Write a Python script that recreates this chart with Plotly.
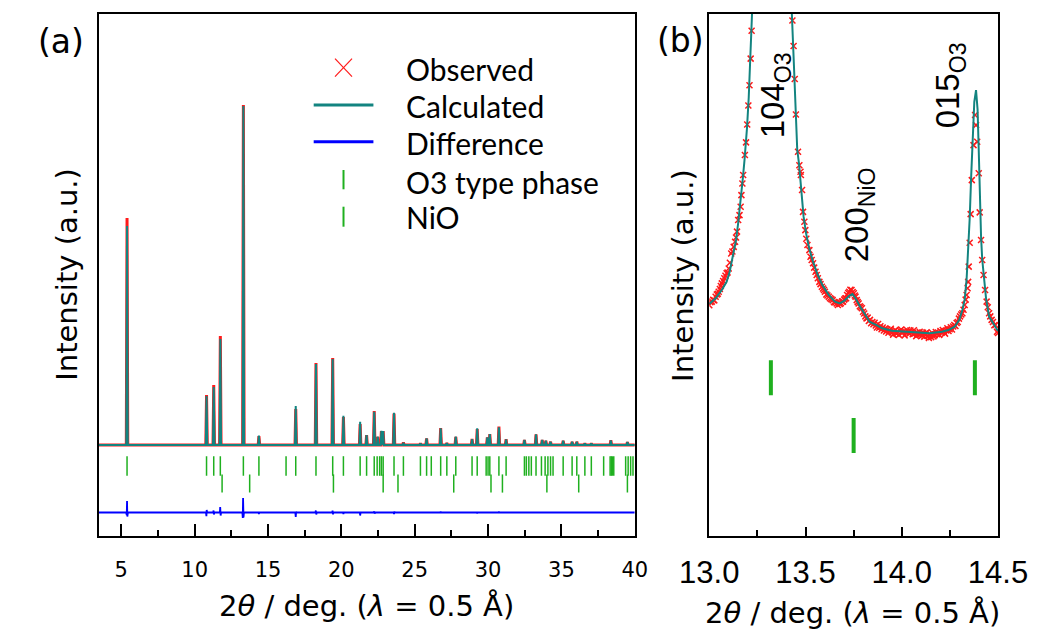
import plotly.graph_objects as go

# ---------------- data: panel (a), full Rietveld pattern ----------------
a_peak_pos = [5.39, 10.81, 11.30, 11.75, 13.32, 14.38, 16.89, 18.27, 19.41, 20.14,
              21.28, 21.72, 22.24, 22.48, 22.73, 22.85, 23.59, 24.23, 25.39, 25.81,
              26.77, 27.19, 27.80, 28.91, 29.26, 29.95, 30.12, 30.74, 31.23, 32.48,
              33.27, 33.69, 33.94, 34.26, 35.12, 35.73, 36.05, 36.60, 37.04, 38.37, 39.50]
a_peak_calc = [3190, 1490, 1580, 2060, 4390, 1093, 1390, 1810, 1860, 1293,
               1233, 1100, 1333, 1083, 1143, 1140, 1323, 1023, 1017, 1067,
               1167, 1020, 1083, 1060, 1167, 1077, 1110, 1177, 1057, 1050,
               1107, 1050, 1043, 1033, 1043, 1033, 1033, 1017, 1017, 1047, 1030]
a_peak_obs = [3270, 1500, 1600, 2090, 4400, 1090, 1360, 1820, 1870, 1280,
              1210, 1100, 1340, 1080, 1140, 1140, 1315, 1025, 1017, 1065,
              1170, 1020, 1080, 1060, 1160, 1077, 1110, 1185, 1057, 1050,
              1107, 1050, 1043, 1033, 1043, 1033, 1033, 1017, 1017, 1047, 1030]
a_background = 1000

diff_x = [3.47, 5.33, 5.37, 5.39, 5.41, 5.45, 10.77, 10.80, 10.82, 10.85,
          11.27, 11.29, 11.31, 11.34, 11.72, 11.74, 11.77, 11.80, 13.25, 13.28,
          13.30, 13.33, 13.36, 14.36, 14.38, 14.40, 16.86, 16.89, 16.92, 16.95,
          18.24, 18.26, 18.29, 18.32, 19.38, 19.40, 19.43, 19.46, 20.12, 20.14,
          20.17, 21.26, 21.28, 21.31, 22.22, 22.24, 22.27, 22.30, 23.57, 23.59,
          23.62, 23.65, 26.75, 26.77, 26.80, 29.24, 29.26, 29.29, 30.72, 30.74,
          30.77, 40.0]
diff_y = [0, 0, -25, 115, -40, 0, 0, -37, 25, 0,
          0, 20, -20, 0, 0, 55, -30, 0, 0, -55,
          145, -50, 0, 0, -15, 0, 0, -45, 10, 0,
          0, 20, -20, 0, 0, 18, -18, 0, 0, -15,
          0, 0, -30, 0, 0, 12, -12, 0, 0, -15,
          10, 0, 0, 10, 0, 0, -10, 0, 0, 10,
          0, 0]

o3_pos = [5.39, 10.81, 11.30, 11.75, 13.32, 14.38, 16.23, 16.89, 18.27, 19.41,
          20.14, 21.28, 21.72, 22.24, 22.44, 22.61, 22.73, 22.85, 23.59, 24.23,
          25.39, 25.81, 26.13, 26.77, 27.19, 27.80, 28.91, 29.26, 29.87, 30.00,
          30.12, 30.74, 31.23, 32.48, 32.61, 32.78, 32.95, 33.27, 33.64, 33.89,
          34.08, 34.26, 34.43, 35.12, 35.73, 36.05, 36.60, 37.04, 37.88, 38.32,
          38.40, 38.47, 38.57, 39.38, 39.55, 39.72, 39.88]
nio_pos = [11.87, 13.75, 19.46, 22.85, 23.86, 27.66, 30.20, 30.98, 34.01, 36.18, 39.50]

# ---------------- data: panel (b), zoom 13.0 - 14.5 deg ----------------
b_calc_x = [13.000, 13.033, 13.065, 13.090, 13.106, 13.123, 13.139, 13.150, 13.158, 13.167,
            13.175, 13.183, 13.188, 13.196, 13.205, 13.212, 13.219, 13.222, 13.250, 13.320,
            13.400, 13.429, 13.440, 13.449, 13.457, 13.466, 13.474, 13.482, 13.490, 13.503,
            13.519, 13.539, 13.564, 13.588, 13.621, 13.653, 13.678, 13.702, 13.727, 13.744,
            13.760, 13.784, 13.809, 13.833, 13.866, 13.899, 13.948, 14.013, 14.078, 14.144,
            14.209, 14.242, 14.275, 14.299, 14.315, 14.327, 14.337, 14.345, 14.353, 14.361,
            14.369, 14.377, 14.386, 14.394, 14.400, 14.405, 14.412, 14.418, 14.426, 14.438,
            14.454, 14.479, 14.495, 14.500]
b_calc_y = [991.3, 993.5, 996.8, 1000.0, 1004.0, 1009.9, 1016.5, 1023.1, 1028.3, 1034.9,
            1041.4, 1048.0, 1052.0, 1060.7, 1072.8, 1085.6, 1098.4, 1105.6, 1300.0, 2500.0,
            1300.0, 1105.6, 1085.0, 1068.0, 1052.0, 1046.7, 1040.1, 1032.3, 1025.7, 1019.1,
            1013.2, 1007.9, 1002.7, 998.7, 994.8, 992.2, 991.5, 992.6, 994.5, 995.2,
            993.5, 990.2, 986.9, 984.3, 983.0, 981.7, 980.7, 980.3, 979.9, 979.7,
            980.3, 981.0, 982.3, 985.0, 988.9, 993.0, 1001.0, 1012.0, 1025.0, 1042.0,
            1058.0, 1071.0, 1075.6, 1068.0, 1052.0, 1033.0, 1018.0, 1009.0, 1002.0, 993.5,
            986.3, 983.0, 981.0, 980.6]

b_obs_x = [13.000, 13.006, 13.013, 13.020, 13.026, 13.033, 13.039, 13.044, 13.049, 13.055,
           13.060, 13.065, 13.072, 13.078, 13.084, 13.090, 13.095, 13.101, 13.107, 13.114,
           13.120, 13.127, 13.134, 13.139, 13.144, 13.150, 13.157, 13.163, 13.167, 13.172,
           13.176, 13.185, 13.191, 13.197, 13.203, 13.209, 13.215, 13.220,
           13.432, 13.438, 13.444, 13.450, 13.461, 13.468, 13.474, 13.476, 13.482, 13.487,
           13.494, 13.499, 13.504, 13.510, 13.520, 13.526, 13.532, 13.539, 13.545, 13.552,
           13.558, 13.564, 13.572, 13.578, 13.585, 13.591, 13.596, 13.601, 13.608, 13.614,
           13.621, 13.627, 13.634, 13.641, 13.648, 13.655, 13.662, 13.668, 13.673, 13.678,
           13.684, 13.690, 13.695, 13.701, 13.706, 13.711, 13.716, 13.722, 13.727, 13.733,
           13.739, 13.745, 13.751, 13.756, 13.760, 13.766, 13.771, 13.776, 13.782, 13.787,
           13.793, 13.799, 13.805, 13.811, 13.817, 13.823, 13.829, 13.835, 13.841, 13.847,
           13.853, 13.859, 13.865, 13.871, 13.877, 13.883, 13.889, 13.895, 13.901, 13.907,
           13.913, 13.919, 13.925, 13.931, 13.937, 13.943, 13.949, 13.955, 13.961, 13.967,
           13.973, 13.979, 13.985, 13.991, 13.997, 14.003, 14.009, 14.015, 14.021, 14.027,
           14.033, 14.039, 14.045, 14.051, 14.057, 14.063, 14.069, 14.075, 14.081, 14.087,
           14.093, 14.099, 14.105, 14.111, 14.117, 14.123, 14.129, 14.135, 14.141, 14.147,
           14.153, 14.159, 14.165, 14.171, 14.177, 14.183, 14.189, 14.195, 14.201, 14.207,
           14.213, 14.219, 14.225, 14.231, 14.237, 14.243, 14.249, 14.255, 14.261, 14.267,
           14.273, 14.279, 14.285, 14.291, 14.297, 14.303, 14.309, 14.315, 14.321, 14.327,
           14.332, 14.337, 14.342, 14.345, 14.348, 14.353, 14.358, 14.364, 14.373, 14.381,
           14.386, 14.392, 14.400, 14.405, 14.412, 14.418, 14.425, 14.433, 14.441, 14.447,
           14.454, 14.460, 14.467, 14.474, 14.481, 14.487, 14.495, 14.500]
b_obs_y = [990.8, 992.0, 992.2, 992.9, 992.7, 994.1, 995.0, 995.3, 996.1, 997.2,
           998.4, 999.4, 1000.3, 1001.4, 1002.4, 1003.4, 1003.7, 1005.3, 1007.5, 1011.2,
           1012.0, 1013.8, 1015.8, 1017.5, 1019.8, 1024.4, 1026.3, 1029.6, 1034.2, 1038.8,
           1042.1, 1050.0, 1055.0, 1062.0, 1069.5, 1077.5, 1088.0, 1099.0,
           1103.0, 1093.0, 1080.0, 1066.0, 1051.3, 1046.0, 1043.4, 1042.1, 1036.2, 1027.6,
           1023.7, 1020.4, 1017.0, 1014.5, 1012.5, 1009.9, 1008.6, 1007.3, 1005.6, 1004.0,
           1002.7, 1001.4, 1000.0, 999.1, 998.1, 997.4, 996.8, 996.1, 995.0, 994.6,
           994.1, 993.5, 993.2, 992.8, 992.0, 991.9, 991.5, 990.9, 991.8, 991.3,
           991.6, 992.3, 992.2, 993.0, 993.4, 993.5, 994.8, 995.6, 996.1, 996.9,
           996.8, 996.0, 995.5, 994.6, 994.1, 992.8, 992.0, 991.5, 990.4, 990.0,
           989.6, 988.2, 987.5, 986.4, 985.6, 985.9, 984.6, 985.0, 983.7, 984.2,
           983.3, 983.9, 982.8, 982.0, 983.4, 981.9, 982.5, 981.3, 982.0, 980.8,
           981.6, 980.4, 981.2, 979.9, 980.9, 981.5, 980.0, 979.2, 980.6, 981.0,
           979.6, 980.3, 979.1, 980.7, 981.2, 979.8, 980.5, 978.9, 980.1, 981.0,
           980.4, 979.6, 980.8, 980.2, 979.4, 980.9, 979.7, 978.6, 980.0, 979.2,
           980.3, 979.5, 978.8, 979.9, 978.4, 979.6, 980.1, 978.7, 977.9, 979.3,
           978.2, 979.8, 978.5, 979.0, 980.2, 979.4, 980.0, 979.1, 980.6, 979.9,
           981.0, 980.4, 979.6, 980.8, 981.7, 980.6, 981.3, 982.1, 981.2, 982.4,
           983.0, 982.6, 983.8, 984.2, 985.5, 986.4, 987.1, 987.6, 989.0, 990.9,
           993.0, 994.8, 997.5, 1000.0, 1006.0, 1015.4, 1026.7, 1040.1, 1053.9, 1065.8,
           1061.8, 1055.2, 1042.8, 1027.4, 1016.5, 1008.6, 1002.7, 996.8, 992.2, 990.0,
           987.6, 986.4, 985.0, 984.2, 982.9, 983.0, 980.3, 979.8]

# ---------------- styling / layout constants ----------------
W, H = 1061, 635
RED = "#ff1a1a"
TEAL = "#138480"
BLUE = "#0000ff"
GREEN = "#1fb01f"
ARIAL = "DejaVu Sans"
ARIAL2 = "Liberation Sans, Arial"
CALIBRI = "Lato"

A_X = (73, 641)       # panel (a) left/right pixel
B_X = (720, 1026)     # panel (b) left/right pixel
Y_PIX = (14, 535.5)   # top/bottom pixel of both panels
A_XRANGE = [3.47, 40.0]
A_YRANGE = [95, 5310]
B_XRANGE = [13.0, 14.5]
B_YRANGE = [900, 1105.6]
A_O3_ROW, A_NIO_ROW, A_DIFF_OFF = 790, 615, 325
B_O3_ROW, B_NIO_ROW = 962.2, 939.4
FOOT = 0.05


def px(x):
    return x / W


def py(y):
    return 1 - y / H


# build the panel (a) profile from the peak table
a_x, a_calc, a_obs = [A_XRANGE[0]], [a_background], [a_background]
for p, hc, ho in zip(a_peak_pos, a_peak_calc, a_peak_obs):
    a_x += [p - FOOT, p, p + FOOT]
    a_calc += [a_background, hc, a_background]
    a_obs += [a_background, ho, a_background]
a_x.append(A_XRANGE[1])
a_calc.append(a_background)
a_obs.append(a_background)

fig = go.Figure()

# ---- panel (a) ----
fig.add_trace(go.Scatter(x=a_x, y=a_obs, mode="lines", xaxis="x", yaxis="y",
                         line=dict(color=RED, width=3), showlegend=False))
fig.add_trace(go.Scatter(x=a_x, y=a_calc, mode="lines", xaxis="x", yaxis="y",
                         line=dict(color=TEAL, width=2), showlegend=False))
fig.add_trace(go.Scatter(x=diff_x, y=[A_DIFF_OFF + d for d in diff_y], mode="lines",
                         xaxis="x", yaxis="y", line=dict(color=BLUE, width=1.8),
                         showlegend=False))
fig.add_trace(go.Scatter(x=o3_pos, y=[A_O3_ROW] * len(o3_pos), mode="markers",
                         xaxis="x", yaxis="y",
                         marker=dict(symbol="line-ns", size=14, line=dict(color=GREEN, width=1.5)),
                         showlegend=False))
fig.add_trace(go.Scatter(x=nio_pos, y=[A_NIO_ROW] * len(nio_pos), mode="markers",
                         xaxis="x", yaxis="y",
                         marker=dict(symbol="line-ns", size=13, line=dict(color=GREEN, width=1.5)),
                         showlegend=False))

# ---- panel (b) ----
fig.add_trace(go.Scatter(x=b_obs_x, y=b_obs_y, mode="markers", xaxis="x2", yaxis="y2",
                         marker=dict(symbol="x-thin", size=6, line=dict(color=RED, width=1.5)),
                         showlegend=False))
fig.add_trace(go.Scatter(x=b_calc_x, y=b_calc_y, mode="lines", xaxis="x2", yaxis="y2",
                         line=dict(color=TEAL, width=2), showlegend=False))
fig.add_trace(go.Scatter(x=o3_pos, y=[B_O3_ROW] * len(o3_pos), mode="markers",
                         xaxis="x2", yaxis="y2",
                         marker=dict(symbol="line-ns", size=25, line=dict(color=GREEN, width=4)),
                         showlegend=False))
fig.add_trace(go.Scatter(x=nio_pos, y=[B_NIO_ROW] * len(nio_pos), mode="markers",
                         xaxis="x2", yaxis="y2",
                         marker=dict(symbol="line-ns", size=25, line=dict(color=GREEN, width=4)),
                         showlegend=False))

frame = dict(showline=True, linecolor="black", linewidth=2, mirror=True,
             showgrid=False, zeroline=False)
ydom = [py(Y_PIX[1]), py(Y_PIX[0])]

fig.update_layout(
    width=W, height=H, autosize=False,
    margin=dict(l=0, r=0, t=0, b=0),
    paper_bgcolor="white", plot_bgcolor="white",
    hovermode=False,
    xaxis=dict(domain=[px(A_X[0]), px(A_X[1])], range=A_XRANGE, anchor="y",
               tickmode="linear", tick0=0, dtick=5, ticks="inside", ticklen=12, tickwidth=2,
               tickcolor="black", ticklabelstandoff=14,
               tickfont=dict(family=ARIAL, size=21, color="black"),
               minor=dict(ticks="inside", dtick=2.5, tick0=0, ticklen=6, tickwidth=2,
                          tickcolor="black"),
               **frame),
    yaxis=dict(domain=ydom, range=A_YRANGE, anchor="x", showticklabels=False, ticks="",
               **frame),
    xaxis2=dict(domain=[px(B_X[0]), px(B_X[1])], range=B_XRANGE, anchor="y2",
                tickmode="linear", tick0=13.0, dtick=0.5, tickformat=".1f",
                ticks="inside", ticklen=9, tickwidth=2, tickcolor="black",
                ticklabelstandoff=8,
                tickfont=dict(family=ARIAL2, size=31, color="black"),
                minor=dict(ticks="inside", dtick=0.25, tick0=13.0, ticklen=6, tickwidth=2,
                           tickcolor="black"),
                **frame),
    yaxis2=dict(domain=ydom, range=B_YRANGE, anchor="x2", showticklabels=False, ticks="",
                **frame),
)

title_x = "2<i>θ</i> / deg. (<i>λ</i> = 0.5 Å)"
ann = [
    dict(text="(a)", x=px(32.5), y=py(42), font=dict(family=ARIAL, size=33)),
    dict(text="(b)", x=px(689.7), y=py(40.5), font=dict(family=ARIAL, size=33)),
    dict(text="Intensity (a.u.)", x=px(39), y=py(274), textangle=-90,
         font=dict(family=ARIAL, size=29)),
    dict(text="Intensity (a.u.)", x=px(691.5), y=py(275.5), textangle=-90,
         font=dict(family=ARIAL, size=29)),
    dict(text=title_x, x=px(356.6), y=py(605.5), font=dict(family=ARIAL, size=29)),
    dict(text=title_x, x=px(872), y=py(613), font=dict(family=ARIAL, size=29)),
    dict(text="104<sub>O3</sub>", x=px(790), y=py(95), textangle=-90,
         font=dict(family=ARIAL2, size=33)),
    dict(text="200<sub>NiO</sub>", x=px(879), y=py(215), textangle=-90,
         font=dict(family=ARIAL2, size=33)),
    dict(text="015<sub>O3</sub>", x=px(975.5), y=py(85), textangle=-90,
         font=dict(family=ARIAL2, size=33)),
]
legend_rows = [("Observed", 69), ("Calculated", 105.5), ("Difference", 143),
               ("O3 type phase", 181.7), ("NiO", 216.7)]
for label, yy in legend_rows:
    ann.append(dict(text=label, x=px(396), y=py(yy), xanchor="left",
                    font=dict(family=CALIBRI, size=30)))
for a in ann:
    a.setdefault("xref", "paper")
    a.setdefault("yref", "paper")
    a.setdefault("showarrow", False)
    a.setdefault("xanchor", "center")
    a.setdefault("yanchor", "middle")
    a["font"]["color"] = "black"
fig.update_layout(annotations=ann)

shp = []
cx, cy, hs = 332.3, 67.7, 9
shp.append(dict(x0=px(cx - hs), y0=py(cy - hs), x1=px(cx + hs), y1=py(cy + hs),
                line=dict(color=RED, width=1.2)))
shp.append(dict(x0=px(cx - hs), y0=py(cy + hs), x1=px(cx + hs), y1=py(cy - hs),
                line=dict(color=RED, width=1.2)))
shp.append(dict(x0=px(300.7), y0=py(105), x1=px(364), y1=py(105), line=dict(color=TEAL, width=3)))
shp.append(dict(x0=px(300.7), y0=py(141.7), x1=px(364), y1=py(141.7), line=dict(color=BLUE, width=3)))
shp.append(dict(x0=px(332.3), y0=py(170), x1=px(332.3), y1=py(189.3), line=dict(color=GREEN, width=2)))
shp.append(dict(x0=px(332.3), y0=py(206.7), x1=px(332.3), y1=py(226.7), line=dict(color=GREEN, width=2)))
for s in shp:
    s.update(type="line", xref="paper", yref="paper")
fig.update_layout(shapes=shp)

# remove the browser's default 8px page margin so the figure sits at the window origin
fig.write_html("out.html", config={"displayModeBar": False},
               post_script="document.body.style.margin='0';")
